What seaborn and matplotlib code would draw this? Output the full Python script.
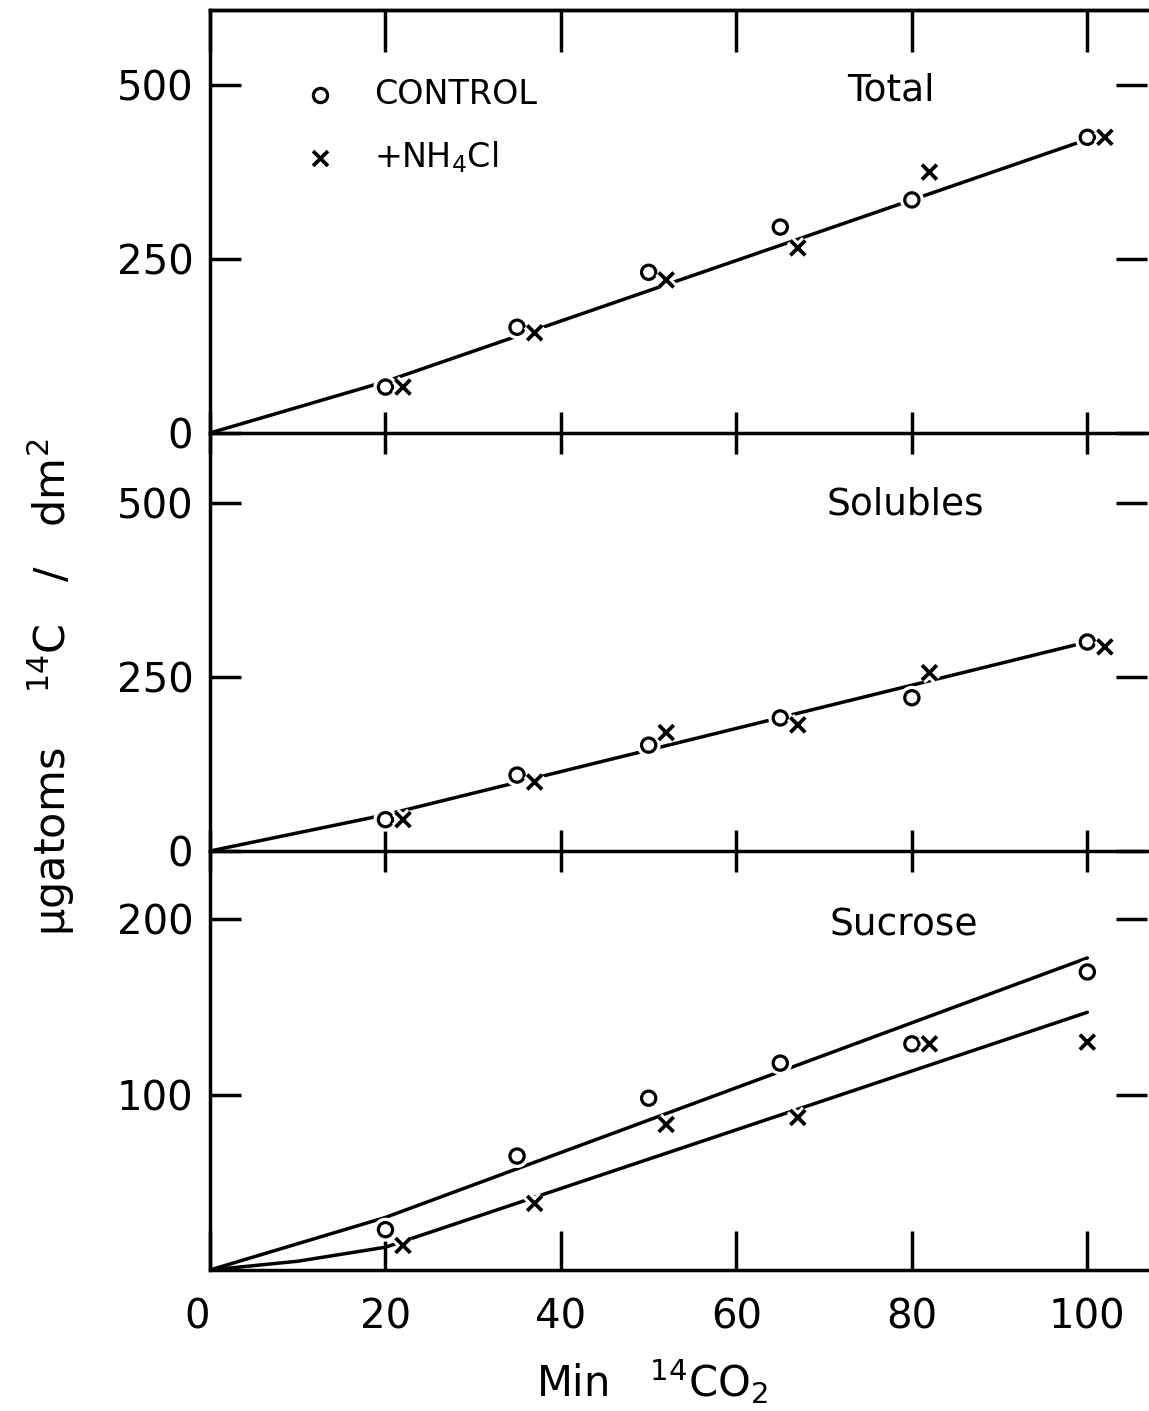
import matplotlib
matplotlib.use("Agg")
import matplotlib.pyplot as plt
import matplotlib.patheffects as pe
import seaborn as sns

# values (minutes of 14CO2 feeding, ugatoms 14C / dm2)
MINUTES = [20, 35, 50, 65, 80, 100]
MINUTES_NH4 = [22, 37, 52, 67, 82, 102]

TOTAL_CONTROL = [66, 152, 231, 296, 335, 425]
TOTAL_NH4 = [66, 144, 220, 266, 375, 425]
TOTAL_FIT_X = [0, 20, 100]
TOTAL_FIT_Y = [0, 74, 422]

SOLUBLES_CONTROL = [45, 109, 152, 191, 220, 300]
SOLUBLES_NH4 = [45, 99, 170, 181, 256, 293]
SOLUBLES_FIT_X = [0, 20, 100]
SOLUBLES_FIT_Y = [0, 52, 300]

SUCROSE_MINUTES_NH4 = [22, 37, 52, 67, 82, 100]
SUCROSE_CONTROL = [23, 65, 98, 118, 129, 170]
SUCROSE_NH4 = [14, 38, 83, 87, 129, 130]
SUCROSE_FIT_CONTROL_X = [0, 20, 100]
SUCROSE_FIT_CONTROL_Y = [0, 30, 178]
SUCROSE_FIT_NH4_X = [0, 10, 20, 100]
SUCROSE_FIT_NH4_Y = [0, 5, 13, 147]

X_TICKS = [0, 20, 40, 60, 80, 100]

sns.set_style("white")
plt.rcParams["font.family"] = ["DejaVu Sans"]
plt.rcParams["mathtext.default"] = "regular"
for key in ("text.color", "axes.labelcolor", "xtick.color", "ytick.color"):
    plt.rcParams[key] = "black"

LW = 2.5
FS = 29
HALO = [pe.withStroke(linewidth=7, foreground="white")]

fig = plt.figure(figsize=(11.49, 14.11), dpi=100)
W, H = 1149, 1411
left, right = 210, 1147


def make_axes(top_px, bottom_px):
    ax = fig.add_axes([left / W, 1 - bottom_px / H,
                       (right - left) / W, (bottom_px - top_px) / H])
    ax.patch.set_visible(False)
    return ax


ax_tot = make_axes(10, 433)
ax_sol = make_axes(433, 851)
ax_suc = make_axes(851, 1270)


def draw_series(ax, fits, ctrl_x, ctrl_y, nh4_x, nh4_y):
    for fx, fy in fits:
        sns.lineplot(x=fx, y=fy, ax=ax, color="black", linewidth=LW,
                     estimator=None, sort=False, zorder=2)
    sns.scatterplot(x=ctrl_x, y=ctrl_y, ax=ax, marker="o", s=105,
                    facecolor="white", edgecolor="black", linewidth=2.3,
                    zorder=3, label="CONTROL")
    sns.scatterplot(x=nh4_x, y=nh4_y, ax=ax, marker="x", s=115,
                    color="black", linewidth=2.7, zorder=3,
                    label="+NH$_4$Cl")
    for coll in ax.collections:
        coll.set_path_effects(HALO)


draw_series(ax_tot, [(TOTAL_FIT_X, TOTAL_FIT_Y)],
            MINUTES, TOTAL_CONTROL, MINUTES_NH4, TOTAL_NH4)
draw_series(ax_sol, [(SOLUBLES_FIT_X, SOLUBLES_FIT_Y)],
            MINUTES, SOLUBLES_CONTROL, MINUTES_NH4, SOLUBLES_NH4)
draw_series(ax_suc, [(SUCROSE_FIT_CONTROL_X, SUCROSE_FIT_CONTROL_Y),
                     (SUCROSE_FIT_NH4_X, SUCROSE_FIT_NH4_Y)],
            MINUTES, SUCROSE_CONTROL, SUCROSE_MINUTES_NH4, SUCROSE_NH4)

limits = {ax_tot: (0, 608), ax_sol: (0, 600), ax_suc: (0, 239)}
yticks = {ax_tot: [0, 250, 500], ax_sol: [0, 250, 500], ax_suc: [100, 200]}

for ax in (ax_tot, ax_sol, ax_suc):
    ax.set_xlim(0, 106.8)
    ax.set_ylim(*limits[ax])
    ax.set_yticks(yticks[ax])
    ax.set_xticks(X_TICKS)
    ax.set_xlabel("")
    ax.set_ylabel("")
    for s in ax.spines.values():
        s.set_linewidth(LW)
        s.set_color("black")
    ax.spines["right"].set_visible(False)
    ax.spines["top"].set_visible(ax is ax_tot)
    ax.tick_params(axis="y", which="major", direction="in", length=22,
                   width=LW, left=True, right=True, labelright=False,
                   labelsize=FS, pad=12, color="black")
    if ax.get_legend() is not None and ax is not ax_tot:
        ax.get_legend().remove()

ax_tot.tick_params(axis="x", direction="inout", length=30, width=LW,
                   bottom=True, top=False, labelbottom=False)
ax_sol.tick_params(axis="x", direction="inout", length=30, width=LW,
                   bottom=True, top=False, labelbottom=False)
ax_suc.tick_params(axis="x", direction="in", length=28, width=LW,
                   bottom=True, top=False, labelsize=FS, pad=20)

top_axis = ax_tot.secondary_xaxis("top")
top_axis.set_xticks(X_TICKS)
top_axis.tick_params(direction="in", length=30, width=LW, labeltop=False)
top_axis.spines["top"].set_linewidth(LW)

ax_suc.get_xticklabels()[0].set_horizontalalignment("right")

leg = ax_tot.legend(loc="upper left", bbox_to_anchor=(0.1, 0.84),
                    frameon=False, fontsize=24, handlelength=1.0,
                    handletextpad=1.1, labelspacing=0.85, borderpad=0,
                    borderaxespad=0, markerscale=1.0)
for h in leg.legend_handles:
    h.set_path_effects([])

ax_tot.text(0.727, 0.81, "Total", transform=ax_tot.transAxes,
            fontsize=27, ha="center", va="center")
ax_sol.text(0.742, 0.828, "Solubles", transform=ax_sol.transAxes,
            fontsize=27, ha="center", va="center")
ax_suc.text(0.740, 0.823, "Sucrose", transform=ax_suc.transAxes,
            fontsize=27, ha="center", va="center")

fig.text(0.045, 0.513, "\u03bcgatoms    $^{14}$C   /   dm$^{2}$", rotation=90,
         fontsize=31, ha="center", va="center")
fig.text(652 / W, 1 - 1382 / H, "Min   $^{14}$CO$_{2}$", fontsize=30,
         ha="center", va="center")

fig.savefig("out.png", dpi=100)
plt.close(fig)
